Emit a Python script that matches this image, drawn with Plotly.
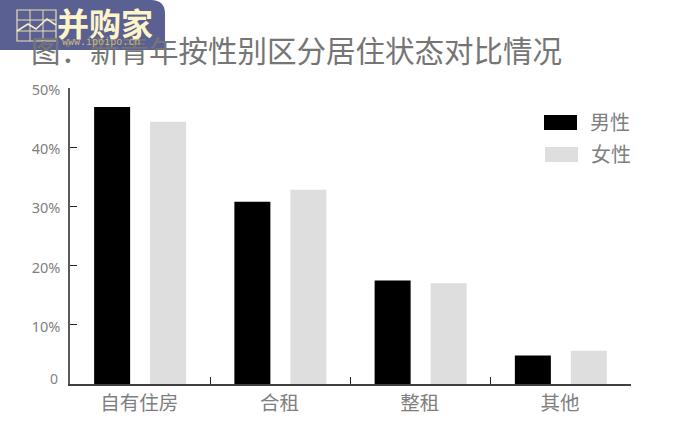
import plotly.graph_objects as go

categories = ["自有住房", "合租", "整租", "其他"]
male = [46.8, 30.8, 17.5, 4.8]
female = [44.3, 32.8, 17.0, 5.6]
tick_vals = [0, 10, 20, 30, 40, 50]
tick_text = ["", "10%", "20%", "30%", "40%", "50%"]
zero_label = "0"
title = "图：新青年按性别区分居住状态对比情况"

FONT = "Noto Sans, Noto Sans CJK SC"
GREY = "#7f7f7f"
W, H = 680, 442
L, R, T, B = 70, 631, 88, 384

fig = go.Figure()
fig.add_bar(x=categories, y=male, name="男性", marker=dict(color="#000000", line_width=0), showlegend=False)
fig.add_bar(x=categories, y=female, name="女性", marker=dict(color="#dedede", line_width=0), showlegend=False)

def px(x): return (x - L) / (R - L)
def py(y): return (B - y) / (B - T)

ann = [
    dict(text=title, x=29, y=50, size=29.5, color="#757575"),
    dict(text="男性", x=588, y=122, size=20, color=GREY),
    dict(text="女性", x=589, y=154, size=20, color=GREY),
    dict(text=zero_label, x=48, y=378, size=14, color=GREY),
    dict(text="并购家", x=55, y=22, size=32, color="#fdf5c9", font="Noto Sans CJK SC", bold=True),
    dict(text="www.ipoipo.cn", x=60, y=42, size=10, color="#c9b87c", font="DejaVu Sans Mono"),
]
annotations = [dict(text=("<b>%s</b>" % a["text"]) if a.get("bold") else a["text"], x=px(a["x"]), y=py(a["y"]),
                    xref="paper", yref="paper", xanchor="left", yanchor="middle", showarrow=False,
                    font=dict(family=a.get("font", FONT), size=a["size"], color=a["color"]))
               for a in ann]

shapes = []
def rect(x0, y0, x1, y1, **k):
    shapes.append(dict(type="rect", xref="paper", yref="paper", x0=px(x0), x1=px(x1), y0=py(y0), y1=py(y1), layer="above", **k))
rect(544, 115, 577, 130, fillcolor="#000000", line_width=0)
rect(545, 147, 578, 162, fillcolor="#dedede", line_width=0)
# logo panel
x0, y0, x1, y1, r = 0, 0, 165, 50, 14
p = f"M {px(x0)} {py(y0)} L {px(x1-r)} {py(y0)} Q {px(x1)} {py(y0)} {px(x1)} {py(y0+r)} L {px(x1)} {py(y1)} L {px(x0)} {py(y1)} Z"
shapes.append(dict(type="path", path=p, xref="paper", yref="paper", fillcolor="rgba(78,84,137,0.93)", line_width=0, layer="above"))
rect(17, 10, 56, 41, line=dict(color="#e8dfb5", width=1.2), fillcolor="rgba(0,0,0,0)")
for gx in (30, 43):
    shapes.append(dict(type="line", xref="paper", yref="paper", x0=px(gx), x1=px(gx), y0=py(10), y1=py(41), line=dict(color="#e8dfb5", width=1), layer="above"))
for gy in (20, 31):
    shapes.append(dict(type="line", xref="paper", yref="paper", x0=px(17), x1=px(56), y0=py(gy), y1=py(gy), line=dict(color="#e8dfb5", width=1), layer="above"))
pts = [(17, 31), (28, 24), (36, 29), (47, 19), (56, 25)]
shapes.append(dict(type="path", xref="paper", yref="paper", layer="above", line=dict(color="#f5edc8", width=1.6),
                   path="M " + " L ".join(f"{px(a)} {py(b)}" for a, b in pts)))

fig.update_layout(
    width=W, height=H, autosize=False,
    margin=dict(l=L, r=W - R, t=T, b=H - B, pad=0),
    paper_bgcolor="white", plot_bgcolor="white",
    barmode="group", bargap=0.2014, bargroupgap=0.357,
    font=dict(family=FONT, color=GREY),
    annotations=annotations, shapes=shapes,
    xaxis=dict(type="category", showgrid=False, showline=True, linecolor="#404040", linewidth=1.5,
               ticks="inside", ticklen=7, tickwidth=1, tickcolor="#222222", tickson="boundaries",
               tickfont=dict(size=19.5, color=GREY), ticklabelstandoff=1, ticklabelshift=-1, zeroline=False),
    yaxis=dict(range=[0, 50], tickvals=tick_vals, ticktext=tick_text, showgrid=False, showline=True,
               linecolor="#595959", linewidth=1.5, ticks="inside", ticklen=7, tickwidth=1, tickcolor="#222222",
               tickfont=dict(size=14.5, color=GREY), ticklabelstandoff=5, ticklabelshift=2, zeroline=False),
)
fig.write_html("out.html", post_script="document.body.style.margin='0';", config=dict(displayModeBar=False))
